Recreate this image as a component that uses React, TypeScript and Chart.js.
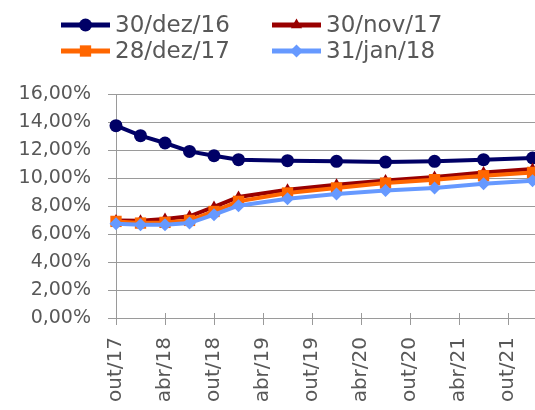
import React, { useEffect, useRef } from "react";
import { Chart, registerables } from "chart.js";

Chart.register(...registerables);

// Months since out/17 for each curve vertex
const monthOffsets = [0, 3, 6, 9, 12, 15, 21, 27, 33, 39, 45, 51];
const tickMonths = [0, 6, 12, 18, 24, 30, 36, 42, 48];
const tickLabels = ["out/17", "abr/18", "out/18", "abr/19", "out/19", "abr/20", "out/20", "abr/21", "out/21"];
const yTicks = [0, 2, 4, 6, 8, 10, 12, 14, 16];

const seriesNames = ["30/dez/16", "30/nov/17", "28/dez/17", "31/jan/18"];
const dez16 = [13.74, 13.02, 12.5, 11.9, 11.59, 11.31, 11.24, 11.19, 11.14, 11.19, 11.31, 11.43];
const nov17 = [6.97, 6.95, 7.07, 7.26, 7.93, 8.64, 9.16, 9.52, 9.83, 10.07, 10.4, 10.64];
const dez17 = [6.9, 6.78, 6.83, 6.97, 7.61, 8.33, 8.93, 9.29, 9.64, 9.88, 10.16, 10.4];
const jan18 = [6.74, 6.66, 6.66, 6.78, 7.38, 8.02, 8.52, 8.86, 9.11, 9.29, 9.59, 9.81];

const colors = ["#000066", "#990000", "#FF6600", "#6699FF"];
const styles = ["circle", "triangle", "rect", "rectRot"];
const radii = [6.5, 6.5, 8, 6.5];

const FONT = "'DejaVu Sans', Verdana, sans-serif";
const TEXT = "#585858";
const GRID = "#9a9a9a";

function drawMarker(ctx: CanvasRenderingContext2D, style: string, x: number, y: number, r: number, color: string) {
  ctx.save();
  ctx.fillStyle = color;
  ctx.beginPath();
  if (style === "circle") {
    ctx.arc(x, y, r, 0, Math.PI * 2);
  } else if (style === "triangle") {
    for (let i = 0; i < 3; i++) {
      const a = (i * 2 * Math.PI) / 3;
      const px = x + Math.sin(a) * r;
      const py = y - Math.cos(a) * r;
      if (i === 0) ctx.moveTo(px, py);
      else ctx.lineTo(px, py);
    }
    ctx.closePath();
  } else if (style === "rect") {
    const s = Math.SQRT1_2 * r;
    ctx.rect(x - s, y - s, 2 * s, 2 * s);
  } else {
    ctx.moveTo(x, y - r);
    ctx.lineTo(x + r, y);
    ctx.lineTo(x, y + r);
    ctx.lineTo(x - r, y);
    ctx.closePath();
  }
  ctx.fill();
  ctx.restore();
}

const legendPlugin = {
  id: "customLegend",
  afterDraw(chart: any) {
    const ctx: CanvasRenderingContext2D = chart.ctx;
    const cols = [61, 272];
    const rows = [25, 51];
    seriesNames.forEach((name, i) => {
      const x = cols[i % 2];
      const y = rows[Math.floor(i / 2)];
      ctx.save();
      ctx.strokeStyle = colors[i];
      ctx.lineWidth = 5;
      ctx.beginPath();
      ctx.moveTo(x, y);
      ctx.lineTo(x + 49, y);
      ctx.stroke();
      drawMarker(ctx, styles[i], x + 24.5, y, radii[i], colors[i]);
      ctx.fillStyle = TEXT;
      ctx.font = `23px ${FONT}`;
      ctx.textBaseline = "middle";
      ctx.textAlign = "left";
      ctx.fillText(name, x + 54, y + 1);
      ctx.restore();
    });
  },
};

const crossTicks = {
  id: "crossTicks",
  afterDraw(chart: any) {
    const ctx: CanvasRenderingContext2D = chart.ctx;
    const xs = chart.scales.x;
    const bottom = chart.chartArea.bottom;
    ctx.save();
    ctx.strokeStyle = GRID;
    ctx.lineWidth = 1;
    tickMonths.forEach((m) => {
      const px = Math.round(xs.getPixelForValue(m)) + 0.5;
      ctx.beginPath();
      ctx.moveTo(px, bottom - 5);
      ctx.lineTo(px, bottom);
      ctx.stroke();
    });
    ctx.restore();
  },
};

export default function App() {
  const ref = useRef<HTMLCanvasElement | null>(null);

  useEffect(() => {
    if (!ref.current) return;
    const allSeries = [dez16, nov17, dez17, jan18];
    const chart = new Chart(ref.current, {
      type: "line",
      data: {
        datasets: allSeries.map((vals, i) => ({
          label: seriesNames[i],
          data: vals.map((v, j) => ({ x: monthOffsets[j], y: v })),
          borderColor: colors[i],
          backgroundColor: colors[i],
          borderWidth: 4,
          pointStyle: styles[i] as any,
          pointRadius: radii[i],
          pointBorderWidth: 0,
          tension: 0,
          clip: false as any,
          order: 3 - i,
        })),
      },
      options: {
        animation: false,
        responsive: false,
        maintainAspectRatio: false,
        layout: { autoPadding: false, padding: { top: 94, right: 0, left: 0, bottom: 0 } },
        plugins: { legend: { display: false }, tooltip: { enabled: false } },
        scales: {
          x: {
            type: "linear",
            min: 0,
            max: 51.3,
            afterBuildTicks: (scale: any) => {
              scale.ticks = tickMonths.map((v) => ({ value: v }));
            },
            afterFit: (scale: any) => {
              scale.height = 92;
              scale.paddingRight = 0;
              scale.paddingLeft = 0;
            },
            grid: { drawOnChartArea: false, tickLength: 7, color: GRID },
            border: { color: GRID },
            ticks: {
              autoSkip: false,
              minRotation: 90,
              maxRotation: 90,
              padding: 12,
              color: TEXT,
              font: { family: FONT, size: 20 },
              callback: (v: any) => {
                const idx = tickMonths.indexOf(Number(v));
                return idx >= 0 ? tickLabels[idx] : "";
              },
            },
          },
          y: {
            min: 0,
            max: 16,
            afterBuildTicks: (scale: any) => {
              scale.ticks = yTicks.map((v) => ({ value: v }));
            },
            afterFit: (scale: any) => {
              scale.width = 116;
            },
            grid: { color: GRID, tickLength: 8 },
            border: { color: GRID },
            ticks: {
              padding: 17,
              color: TEXT,
              font: { family: FONT, size: 19 },
              callback: (v: any) => Number(v).toFixed(2).replace(".", ",") + "%",
            },
          },
        },
      },
      plugins: [legendPlugin, crossTicks],
    });
    return () => chart.destroy();
  }, []);

  return (
    <div style={{ position: "absolute", left: 0, top: 0, width: 535, height: 410, background: "#fff" }}>
      <canvas ref={ref} width={535} height={410} />
    </div>
  );
}
